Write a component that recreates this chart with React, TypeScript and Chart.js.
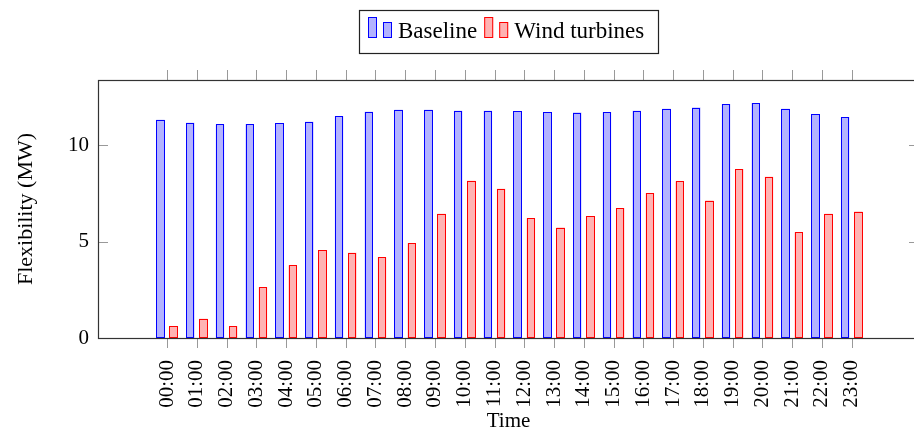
import React, { useEffect, useRef } from "react";
import { Chart, registerables } from "chart.js";

Chart.register(...registerables);

const hours = [
  "00:00", "01:00", "02:00", "03:00", "04:00", "05:00", "06:00", "07:00",
  "08:00", "09:00", "10:00", "11:00", "12:00", "13:00", "14:00", "15:00",
  "16:00", "17:00", "18:00", "19:00", "20:00", "21:00", "22:00", "23:00",
];

const baseline = [
  11.31, 11.16, 11.07, 11.09, 11.12, 11.21, 11.49, 11.73, 11.83, 11.83, 11.78, 11.78,
  11.76, 11.71, 11.68, 11.71, 11.78, 11.88, 11.94, 12.13, 12.18, 11.88, 11.61, 11.45,
];

const windTurbines = [
  0.62, 1.0, 0.61, 2.64, 3.77, 4.54, 4.42, 4.18, 4.91, 6.44, 8.15, 7.74,
  6.2, 5.72, 6.31, 6.74, 7.51, 8.12, 7.12, 8.76, 8.36, 5.48, 6.44, 6.55,
];

const yTickValues = [0, 5, 10];

const FONT_FAMILY = '"Liberation Serif", "Times New Roman", serif';
const FONT_SIZE = 21;
const LEGEND_FONT_SIZE = 23;

// crisp 1px outline on top of the bars drawn by Chart.js (uses the bar elements' own geometry)
const barOutlinePlugin = {
  id: "barOutline",
  afterDatasetsDraw(chart: any) {
    const { ctx } = chart;
    ctx.save();
    ctx.lineWidth = 1;
    chart.data.datasets.forEach((ds: any, di: number) => {
      const meta = chart.getDatasetMeta(di);
      ctx.strokeStyle = ds.outlineColor;
      meta.data.forEach((el: any) => {
        const { x, y, base, width } = el.getProps(["x", "y", "base", "width"], true);
        const l = Math.round(x - width / 2) + 0.5;
        const r = Math.round(x + width / 2) - 0.5;
        const t = Math.round(y) + 0.5;
        const b = Math.round(base) - 0.5;
        ctx.strokeRect(l, t, r - l, b - t);
      });
    });
    ctx.restore();
  },
};

const framePlugin = {
  id: "frameTicks",
  afterDatasetsDraw(chart: any) {
    const { ctx, chartArea: a, scales } = chart;
    ctx.save();
    ctx.lineWidth = 1;
    ctx.strokeStyle = "#999999";
    ctx.beginPath();
    scales.x.ticks.forEach((t: any) => {
      const px = Math.round(scales.x.getPixelForValue(t.value)) + 0.5;
      ctx.moveTo(px, a.bottom);
      ctx.lineTo(px, a.bottom + 10);
      ctx.moveTo(px, a.top - 10);
      ctx.lineTo(px, a.top);
    });
    scales.y.ticks.forEach((t: any) => {
      const py = Math.round(scales.y.getPixelForValue(t.value)) + 0.5;
      ctx.moveTo(a.left, py);
      ctx.lineTo(a.left + 10, py);
      ctx.moveTo(a.right - 10, py);
      ctx.lineTo(a.right, py);
    });
    ctx.stroke();
    ctx.strokeStyle = "#333333";
    ctx.lineWidth = 1.2;
    ctx.strokeRect(a.left + 0.5, a.top + 0.5, a.right - a.left, a.bottom - a.top);
    ctx.restore();
  },
};

const legendPlugin = {
  id: "barLegend",
  afterDraw(chart: any) {
    const { ctx, chartArea: a } = chart;
    ctx.save();
    ctx.font = `${LEGEND_FONT_SIZE}px ${FONT_FAMILY}`;
    const items = chart.data.datasets.map((ds: any) => ({
      label: ds.label,
      fill: ds.backgroundColor,
      stroke: ds.outlineColor,
      w: ctx.measureText(ds.label).width,
    }));
    const barW = 9, gap = 6, padL = 9, padR = 14, itemGap = 7;
    let total = padL + padR;
    items.forEach((it: any, i: number) => {
      total += barW * 2 + gap * 2 + it.w + (i < items.length - 1 ? itemGap : 0);
    });
    const cx = (a.left + a.right) / 2;
    let x = Math.round(cx - total / 2);
    const top = 10, h = 43, base = 38;
    ctx.lineWidth = 1.2;
    ctx.strokeStyle = "#222222";
    ctx.strokeRect(x + 0.5, top + 0.5, Math.round(total), h);
    x += padL;
    const drawBar = (bx: number, by: number, it: any) => {
      ctx.fillStyle = it.fill;
      ctx.fillRect(bx, by, barW, base - by);
      ctx.strokeStyle = it.stroke;
      ctx.lineWidth = 1;
      ctx.strokeRect(bx + 0.5, by + 0.5, barW - 1, base - by - 1);
    };
    items.forEach((it: any) => {
      drawBar(x, 17, it);
      x += barW + gap;
      drawBar(x, 22, it);
      x += barW + gap;
      ctx.fillStyle = "#000";
      ctx.textBaseline = "alphabetic";
      ctx.textAlign = "left";
      ctx.fillText(it.label, x, base);
      x += it.w + itemGap;
    });
    ctx.restore();
  },
};

export default function App() {
  const ref = useRef<HTMLCanvasElement | null>(null);

  useEffect(() => {
    if (!ref.current) return;
    Chart.defaults.font.family = FONT_FAMILY;
    Chart.defaults.font.size = FONT_SIZE;
    Chart.defaults.color = "#000";
    const barStyle = {
      borderWidth: 0,
      inflateAmount: 0,
      categoryPercentage: 0.887,
      barPercentage: 0.636,
    };
    const chart = new Chart(ref.current, {
      type: "bar",
      data: {
        datasets: [
          {
            label: "Baseline",
            data: hours.map((_, i) => ({ x: i, y: baseline[i] })),
            backgroundColor: "#b3b3ff",
            borderColor: "#0000ff",
            outlineColor: "#0000ff",
            ...barStyle,
          } as any,
          {
            label: "Wind turbines",
            data: hours.map((_, i) => ({ x: i, y: windTurbines[i] })),
            backgroundColor: "#ffb3b3",
            borderColor: "#ff0000",
            outlineColor: "#ff0000",
            ...barStyle,
          } as any,
        ],
      },
      options: {
        animation: false,
        responsive: false,
        maintainAspectRatio: false,
        layout: { padding: { top: 80, right: 5, left: 0, bottom: 0 } },
        plugins: {
          legend: { display: false },
          tooltip: { enabled: false },
        },
        scales: {
          x: {
            type: "linear",
            offset: false,
            min: -2.32,
            max: 25.26,
            grid: { display: false, drawTicks: false, offset: false },
            border: { display: false },
            afterBuildTicks: (scale: any) => {
              scale.ticks = hours.map((_, i) => ({ value: i }));
            },
            afterFit: (scale: any) => {
              scale.height = 94;
            },
            ticks: {
              autoSkip: false,
              minRotation: 90,
              maxRotation: 90,
              padding: 22,
              color: "#000",
              font: { size: FONT_SIZE },
              callback: (v: any) => hours[v as number] ?? "",
            },
            title: {
              display: true,
              text: "Time",
              color: "#000",
              font: { size: FONT_SIZE, lineHeight: 1 },
              padding: 0,
            },
          },
          y: {
            min: 0,
            max: 13.37,
            grid: { display: false, drawTicks: false },
            border: { display: false },
            afterBuildTicks: (scale: any) => {
              scale.ticks = yTickValues.map((v) => ({ value: v }));
            },
            afterFit: (scale: any) => {
              scale.width = 98;
            },
            ticks: {
              padding: 9,
              color: "#000",
              font: { size: FONT_SIZE },
            },
            title: {
              display: true,
              text: "Flexibility (MW)",
              color: "#000",
              font: { size: 22, lineHeight: 1 },
              padding: { top: 15, bottom: 0 },
            },
          },
        },
      },
      plugins: [barOutlinePlugin, framePlugin, legendPlugin],
    });
    return () => chart.destroy();
  }, []);

  return (
    <div
      style={{
        position: "fixed",
        left: 0,
        top: 0,
        width: 914,
        height: 432,
        overflow: "hidden",
        background: "#fff",
      }}
    >
      <canvas ref={ref} width={924} height={432} style={{ display: "block" }} />
    </div>
  );
}
